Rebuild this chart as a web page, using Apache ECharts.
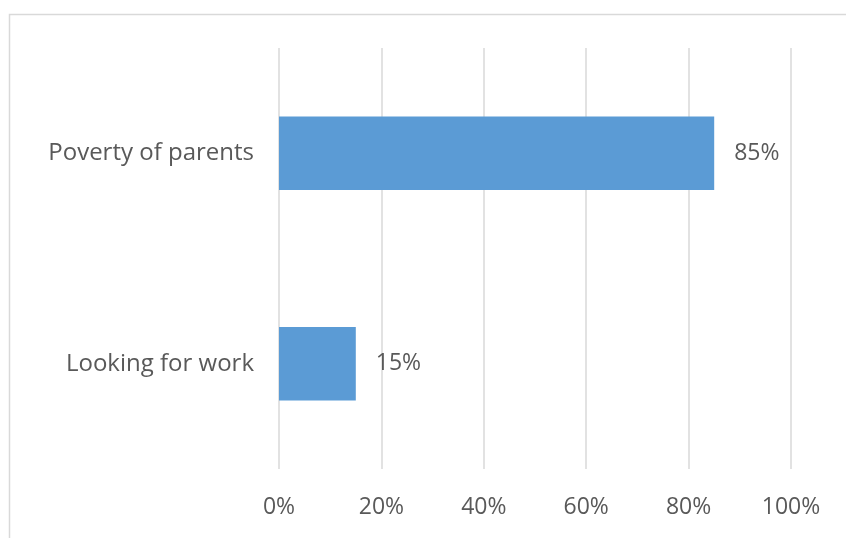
<!DOCTYPE html>
<html>
<head>
<meta charset="utf-8">
<script src="https://cdn.jsdelivr.net/npm/echarts@6/dist/echarts.min.js"></script>
<style>html,body{margin:0;padding:0;background:#fff;}#c{width:846px;height:538px;}</style>
</head>
<body>
<div id="c"></div>
<script>
const categories = ['Looking for work', 'Poverty of parents'];
const values = [15, 85];
const xTicks = [0, 20, 40, 60, 80, 100];

const chart = echarts.init(document.getElementById('c'), null, {renderer: 'canvas'});
const font = 'Open Sans';
chart.setOption({
  animation: false,
  backgroundColor: '#fff',
  graphic: [{
    type: 'rect', silent: true, z: -1,
    shape: {x: 9.5, y: 14.5, width: 900, height: 600},
    style: {fill: 'none', stroke: '#d9d9d9', lineWidth: 1.5}
  }],
  grid: {left: 279, right: 55, top: 48, bottom: 69, containLabel: false},
  xAxis: {
    type: 'value', min: 0, max: 100, interval: 20,
    axisLine: {show: false}, axisTick: {show: false},
    splitLine: {lineStyle: {color: '#d9d9d9', width: 1.5}},
    axisLabel: {formatter: v => xTicks.includes(v) ? v + '%' : '', color: '#595959', fontSize: 23, fontFamily: font, margin: 27}
  },
  yAxis: {
    type: 'category', data: categories,
    axisLine: {show: false}, axisTick: {show: false},
    axisLabel: {color: '#595959', fontSize: 24, fontFamily: font, margin: 25}
  },
  series: [{
    type: 'bar', data: values, barWidth: '35%',
    itemStyle: {color: '#5b9bd5'},
    label: {show: true, position: 'right', distance: 20, formatter: p => p.value + '%', color: '#595959', fontSize: 23, fontFamily: font}
  }]
});
</script>
</body>
</html>
